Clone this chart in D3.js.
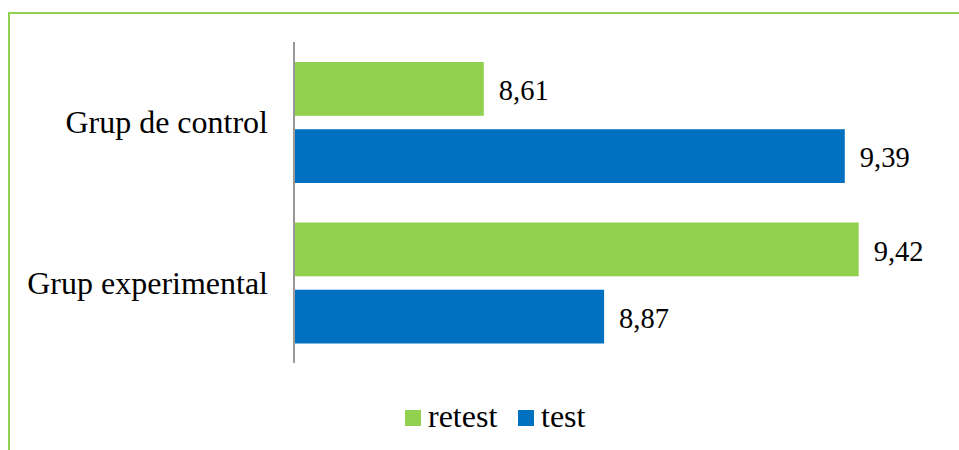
<!DOCTYPE html>
<html><head><meta charset="utf-8">
<script src="https://cdn.jsdelivr.net/npm/d3@7"></script>
<style>
html,body{margin:0;padding:0;background:#fff;}
svg{display:block;}
</style></head>
<body>
<svg id="chart" width="959" height="450"></svg>
<script>
const categories = ["Grup de control", "Grup experimental"];
const seriesNames = ["retest", "test"];
const retestValues = [8.61, 9.42];
const testValues = [9.39, 8.87];
const seriesColors = ["#92d050", "#0070c0"];

const FONT = '"Liberation Serif"';

const data = categories.map((c, i) => ({
  cat: c,
  vals: [{s: "retest", v: retestValues[i]}, {s: "test", v: testValues[i]}]
}));

const svg = d3.select("#chart");
const fmt = v => d3.format(".2f")(v).replace(".", ",");

// frame
svg.append("line").attr("x1", 9).attr("x2", 959).attr("y1", 13).attr("y2", 13)
  .attr("stroke", "#92d050").attr("stroke-width", 2);
svg.append("line").attr("x1", 9).attr("x2", 9).attr("y1", 12).attr("y2", 450)
  .attr("stroke", "#92d050").attr("stroke-width", 2);

const x = d3.scaleLinear().domain([8.2, 9.6]).range([294, 942]);
const y = d3.scaleBand().domain(categories).range([42, 363]);
const ySub = d3.scaleBand().domain(seriesNames).range([20, y.bandwidth() - 19.5]).paddingInner(0.2);
const color = d3.scaleOrdinal().domain(seriesNames).range(seriesColors);

const g = svg.selectAll("g.grp").data(data).join("g")
  .attr("class", "grp")
  .attr("transform", d => `translate(0,${y(d.cat)})`);

g.selectAll("rect").data(d => d.vals).join("rect")
  .attr("x", x(8.2))
  .attr("y", d => ySub(d.s))
  .attr("width", d => x(d.v) - x(8.2))
  .attr("height", ySub.bandwidth())
  .attr("fill", d => color(d.s));

g.selectAll("text.val").data(d => d.vals).join("text")
  .attr("class", "val")
  .attr("x", d => x(d.v) + 15)
  .attr("y", d => ySub(d.s) + ySub.bandwidth() / 2)
  .attr("dy", "0.39em")
  .style("font-family", FONT)
  .style("font-size", "28.5px")
  .style("fill", "#000")
  .text(d => fmt(d.v));

// category axis
const yAxis = d3.axisLeft(y).tickSize(0).tickPadding(26);
const ax = svg.append("g").attr("transform", "translate(294,0)").call(yAxis);
ax.select(".domain").attr("stroke", "#999").attr("stroke-width", 2).attr("d", "M0,42V363");
ax.selectAll("text")
  .style("font-family", FONT).style("font-size", "32px").style("fill", "#000")
  .attr("dy", null).attr("dominant-baseline", "central");

// legend
const legendX = [405, 518];
const lg = svg.selectAll("g.leg").data(seriesNames).join("g")
  .attr("class", "leg")
  .attr("transform", (d, i) => `translate(${legendX[i]},410)`);
lg.append("rect").attr("width", 16).attr("height", 16).attr("fill", d => color(d));
lg.append("text").attr("x", 23).attr("y", 17)
  .style("font-family", FONT).style("font-size", "32px").style("fill", "#000")
  .text(d => d);
</script>
</body></html>
